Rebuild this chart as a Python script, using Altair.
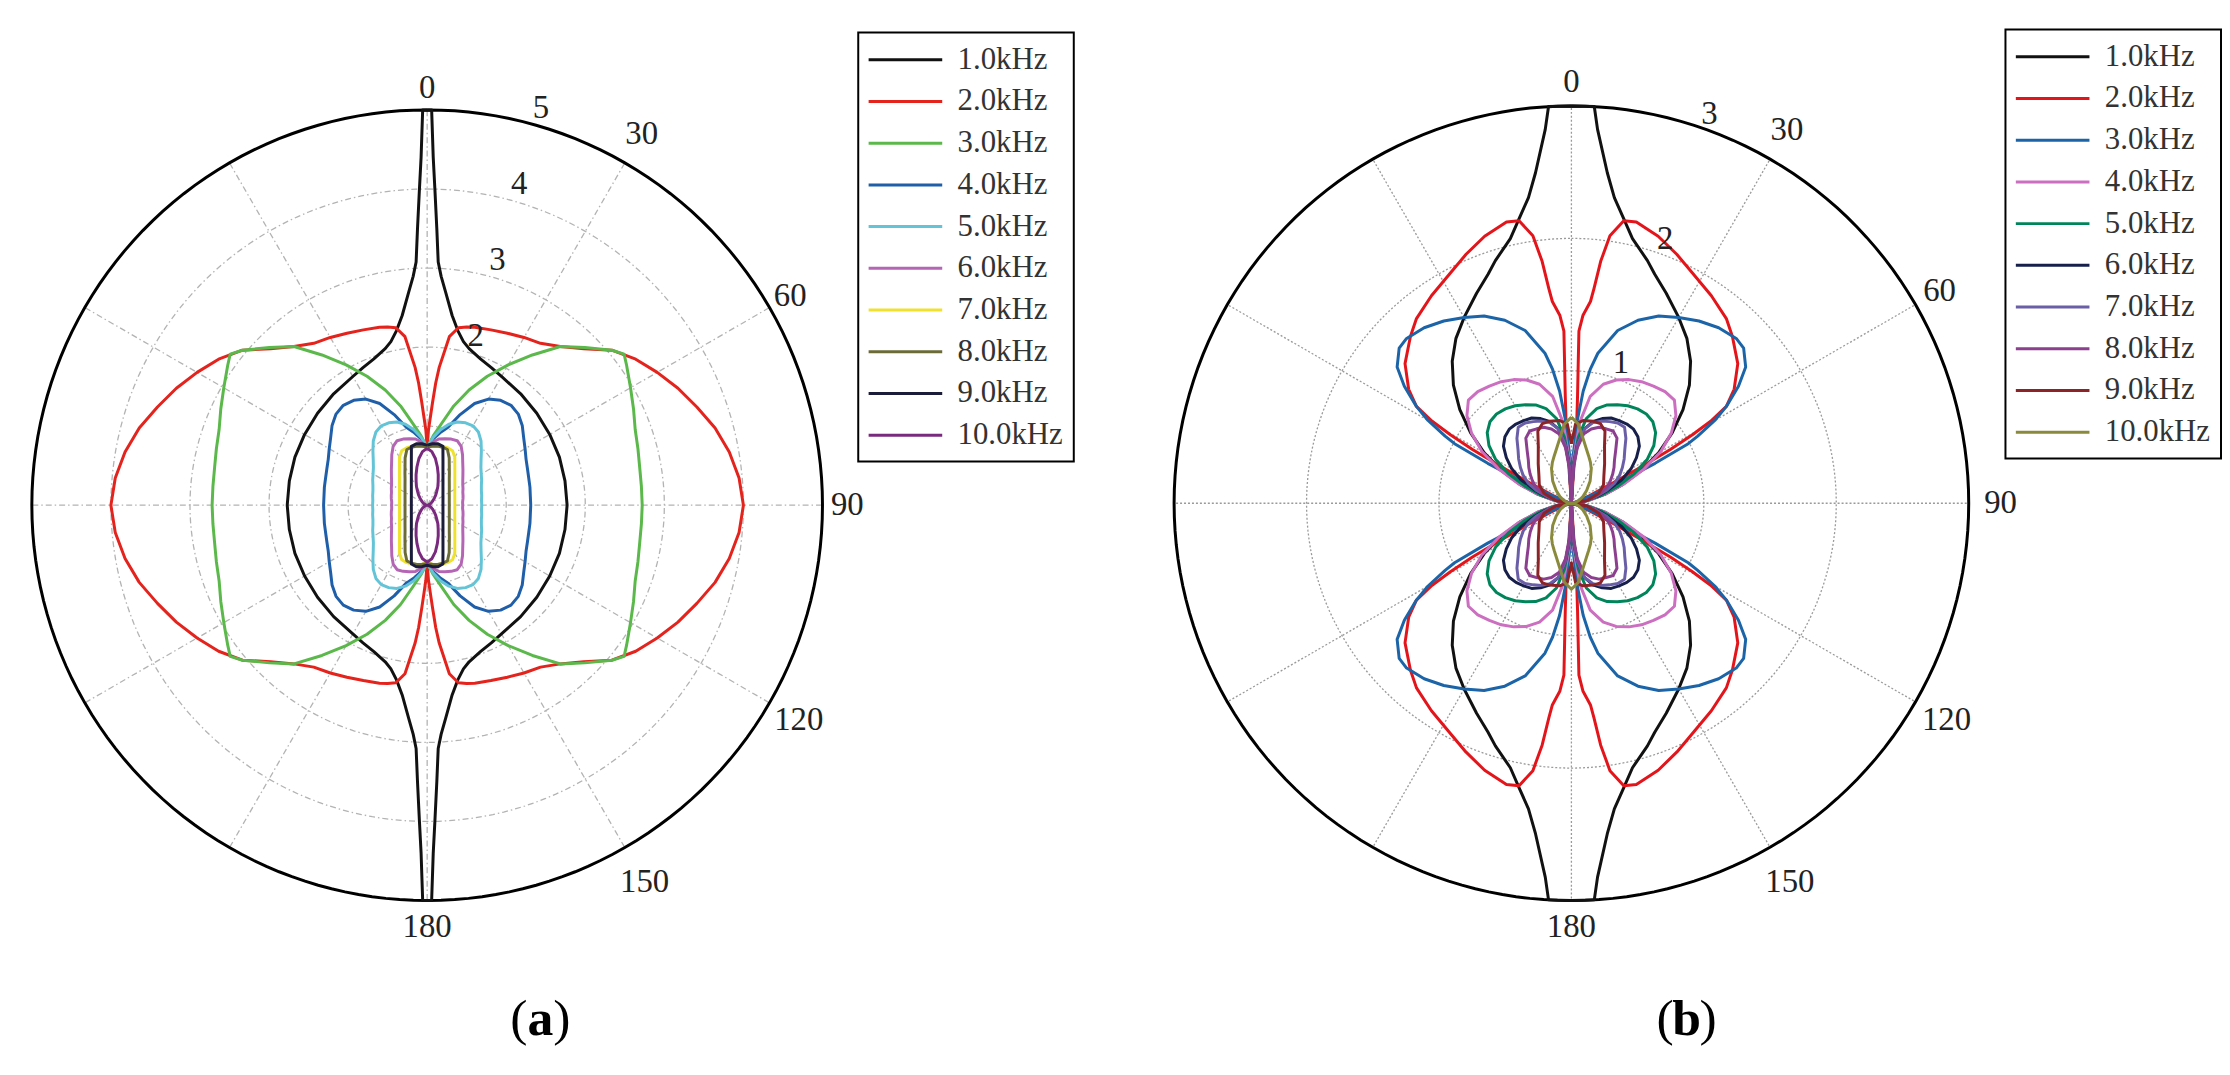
import altair as alt
import pandas as pd
import numpy as np

SERIES = ["1.0kHz", "2.0kHz", "3.0kHz", "4.0kHz", "5.0kHz",
          "6.0kHz", "7.0kHz", "8.0kHz", "9.0kHz", "10.0kHz"]
COLORS_A = ["#111111", "#e4231d", "#5bb84a", "#1f5ea8", "#62c4d6",
            "#b466b4", "#efe22e", "#6b6b38", "#1b1b3a", "#7a2a7e"]
COLORS_B = ["#111111", "#e3151b", "#1b64a8", "#cc6fc0", "#00845a",
            "#16204a", "#6a5fa6", "#8d3f8f", "#8c2327", "#8a8a3c"]

# ---- panel (a): one quadrant (0..90 deg) of each pattern
A1_T = [0, 0.65, 1.0, 1.4, 2.0, 2.6, 3.5, 5, 7.5, 10, 12.5, 15, 20, 25, 30, 40, 50, 60, 70, 80, 90]
A1_R = [5.0, 5.0, 4.4, 4.0, 3.5, 3.08, 2.9, 2.7, 2.42, 2.24, 2.12, 2.05, 1.97, 1.92, 1.88, 1.84, 1.81, 1.79, 1.78, 1.77, 1.77]
A2_T = [0, 1, 2, 3, 4, 5, 7.5, 10, 12.5, 15, 20, 25, 30, 35, 40, 45, 50, 55, 60, 65, 70, 75, 80, 85, 90]
A2_R = [0.73, 0.95, 1.1, 1.3, 1.55, 1.75, 2.15, 2.28, 2.31, 2.33, 2.36, 2.4, 2.45, 2.5, 2.62, 2.8, 3.05, 3.22, 3.36, 3.5, 3.63, 3.77, 3.88, 3.96, 4.0]
A3_T = [0, 5, 10, 15, 20, 25, 30, 35, 40, 45, 50, 52.5, 55, 60, 65, 70, 75, 80, 85, 90]
A3_R = [0.73, 0.88, 1.05, 1.3, 1.55, 1.8, 2.05, 2.32, 2.62, 2.82, 3.05, 3.14, 3.08, 2.97, 2.88, 2.8, 2.76, 2.73, 2.72, 2.72]
ANG_A = [0, 5, 10, 15, 20, 25, 30, 35, 40, 45, 50, 55, 60, 65, 70, 75, 80, 85, 90]
A4_R = [0.73, 0.84, 0.93, 1.02, 1.22, 1.42, 1.55, 1.62, 1.65, 1.63, 1.57, 1.49, 1.43, 1.38, 1.35, 1.33, 1.32, 1.31, 1.31]
A5_R = [0.73, 0.86, 0.97, 1.06, 1.12, 1.15, 1.16, 1.13, 1.06, 0.97, 0.89, 0.83, 0.79, 0.76, 0.73, 0.71, 0.70, 0.69, 0.69]
A6_R = [0.73, 0.80, 0.85, 0.87, 0.89, 0.90, 0.86, 0.78, 0.70, 0.64, 0.59, 0.55, 0.52, 0.50, 0.48, 0.47, 0.46, 0.45, 0.45]
A7_R = [0.73, 0.75, 0.76, 0.77, 0.77, 0.76, 0.70, 0.61, 0.545, 0.495, 0.457, 0.427, 0.404, 0.386, 0.372, 0.362, 0.355, 0.351, 0.35]
A8_R = [0.74, 0.75, 0.76, 0.76, 0.75, 0.66, 0.56, 0.49, 0.435, 0.396, 0.366, 0.342, 0.323, 0.309, 0.298, 0.29, 0.284, 0.281, 0.28]
A9_R = [0.76, 0.78, 0.79, 0.77, 0.585, 0.473, 0.40, 0.349, 0.311, 0.283, 0.261, 0.244, 0.231, 0.221, 0.213, 0.207, 0.203, 0.201, 0.20]
A10_R = [0.72, 0.68, 0.60, 0.50, 0.41, 0.33, 0.27, 0.21, 0.17, 0.13, 0.10, 0.08, 0.06, 0.045, 0.03, 0.02, 0.01, 0.005, 0.0]

# ---- panel (b)
B1_T = [0, 3.3, 4, 6.2, 8, 10.5, 13, 17.4, 20, 24.3, 30, 35, 40, 45, 50, 55, 60, 65, 70, 75, 80, 85, 90]
B1_R = [3.0, 3.0, 2.83, 2.51, 2.33, 2.18, 2.05, 1.92, 1.84, 1.74, 1.62, 1.52, 1.40, 1.26, 1.10, 0.93, 0.76, 0.58, 0.41, 0.26, 0.13, 0.05, 0.0]
B2_T = [0, 4, 3.3, 2.8, 2.5, 3.5, 5.4, 6, 6.9, 8.2, 10.5, 13, 18, 23, 28, 34, 40, 44, 50, 55, 58, 59.5, 60.5, 61.5, 62.5, 64, 67, 75, 90]
B2_R = [0, 0.55, 0.8, 1.05, 1.3, 1.42, 1.53, 1.63, 1.84, 2.04, 2.17, 2.18, 2.12, 2.04, 1.96, 1.89, 1.82, 1.75, 1.64, 1.5, 1.38, 1.22, 1.05, 0.85, 0.6, 0.35, 0.15, 0.04, 0]
B3_T = [0, 2, 4, 6, 8, 10, 15, 20, 25, 30, 35, 40, 45, 48, 52, 55, 58, 60, 62, 63, 64.5, 66, 69, 75, 90]
B3_R = [0, 0.35, 0.62, 0.85, 1.02, 1.15, 1.35, 1.47, 1.56, 1.62, 1.68, 1.73, 1.76, 1.75, 1.67, 1.54, 1.38, 1.25, 1.08, 0.99, 0.70, 0.42, 0.14, 0.04, 0]
ANG_B = [0, 3, 6, 10, 15, 20, 25, 30, 35, 40, 45, 50, 55, 60, 65, 70, 75, 80, 85, 90]
B4_R = [0, 0.35, 0.62, 0.82, 0.93, 0.99, 1.03, 1.06, 1.08, 1.10, 1.10, 1.03, 0.92, 0.78, 0.60, 0.42, 0.27, 0.14, 0.05, 0]
B5_R = [0, 0.30, 0.50, 0.65, 0.74, 0.79, 0.82, 0.85, 0.87, 0.88, 0.87, 0.83, 0.76, 0.66, 0.52, 0.37, 0.24, 0.12, 0.05, 0]
B6_R = [0, 0.28, 0.45, 0.57, 0.64, 0.68, 0.71, 0.72, 0.73, 0.73, 0.71, 0.67, 0.60, 0.52, 0.42, 0.30, 0.20, 0.10, 0.04, 0]
B7_R = [0, 0.28, 0.45, 0.57, 0.63, 0.66, 0.68, 0.70, 0.70, 0.64, 0.57, 0.52, 0.47, 0.42, 0.36, 0.28, 0.19, 0.11, 0.04, 0]
B8_R = [0, 0.25, 0.42, 0.53, 0.58, 0.61, 0.62, 0.63, 0.60, 0.52, 0.46, 0.42, 0.38, 0.34, 0.30, 0.24, 0.17, 0.10, 0.04, 0]
B9_T = [0, 3, 8, 15, 20, 25, 30, 40, 50, 60, 70, 80, 90]
B9_R = [0.45, 0.60, 0.63, 0.64, 0.64, 0.60, 0.50, 0.39, 0.32, 0.28, 0.22, 0.12, 0]
B10_T = [0, 5, 10, 15, 20, 25, 30, 40, 50, 60, 70, 80, 90]
B10_R = [0.65, 0.60, 0.50, 0.43, 0.38, 0.34, 0.30, 0.22, 0.15, 0.10, 0.06, 0.03, 0]

ANGLE_TICKS = [0, 30, 60, 90, 120, 150, 180]
RINGS_A, RMAX_A, RTICKS_A = [1, 2, 3, 4], 5, [2, 3, 4, 5]
RINGS_B, RMAX_B, RTICKS_B = [1, 2], 3, [1, 2, 3]

# ---- styling constants (pixels)
LABEL_GAP_A = {0: 22, 30: 34, 60: 24, 90: 25, 120: 34, 150: 40, 180: 27}
LABEL_GAP_B = {0: 24, 30: 34, 60: 28, 90: 32, 120: 36, 150: 40, 180: 27}
FONT = "Liberation Serif"
LEGEND_SYMBOL = "M-2.47,0L2.47,0"   # a 74px horizontal stroke at symbolSize 900


def closed_path(name, thetas, radii):
    """mirror the measured quadrant into the full symmetric pattern"""
    q = list(zip(thetas, radii))
    seq = (q + [(180 - t, r) for t, r in reversed(q)]
           + [(180 + t, r) for t, r in q] + [(360 - t, r) for t, r in reversed(q)])
    return [{"series": name, "theta": t, "r": r, "k": k} for k, (t, r) in enumerate(seq)]


def curves(pairs):
    rows = []
    for name, (t, r) in zip(SERIES, pairs):
        rows += closed_path(name, t, r)
    return pd.DataFrame(rows)


CURVES_A = curves([(A1_T, A1_R), (A2_T, A2_R), (A3_T, A3_R), (ANG_A, A4_R), (ANG_A, A5_R),
                   (ANG_A, A6_R), (ANG_A, A7_R), (ANG_A, A8_R), (ANG_A, A9_R), (ANG_A, A10_R)])
CURVES_B = curves([(B1_T, B1_R), (B2_T, B2_R), (B3_T, B3_R), (ANG_B, B4_R), (ANG_B, B5_R),
                   (ANG_B, B6_R), (ANG_B, B7_R), (ANG_B, B8_R), (B9_T, B9_R), (B10_T, B10_R)])

XY = dict(x="datum.r * sin(datum.theta * PI / 180)", y="datum.r * cos(datum.theta * PI / 180)")


def panel(cdf, colors, rings, rmax, rticks, rtick_angle, rtick_gap, label_gap, ppu, cx, cy, W, H,
          grid_dash, grid_color, letter, cap_x, cap_y, leg_x, leg_y):
    xs = alt.Scale(domain=[-cx / ppu, (W - cx) / ppu], nice=False, zero=False)
    ys = alt.Scale(domain=[-(H - cy) / ppu, cy / ppu], nice=False, zero=False)
    X = alt.X("x:Q", scale=xs, axis=None)
    Y = alt.Y("y:Q", scale=ys, axis=None)

    circ = np.arange(0, 361, 2)
    ring_df = pd.DataFrame([{"ring": g, "r": g, "theta": float(t), "k": i}
                            for g in rings for i, t in enumerate(circ)])
    outer_df = pd.DataFrame([{"r": rmax, "theta": float(t), "k": i} for i, t in enumerate(circ)])
    spoke_df = pd.DataFrame({"theta": list(range(0, 360, 30)), "r": rmax})

    ring_layer = alt.Chart(ring_df).transform_calculate(**XY).mark_line(
        color=grid_color, strokeWidth=1.3, strokeDash=grid_dash).encode(
        x=X, y=Y, detail="ring:N", order="k:Q")
    spoke_layer = alt.Chart(spoke_df).transform_calculate(
        x0="0", y0="0", **XY).mark_rule(
        color=grid_color, strokeWidth=1.3, strokeDash=grid_dash).encode(
        x=alt.X("x0:Q", scale=xs, axis=None), y=alt.Y("y0:Q", scale=ys, axis=None),
        x2="x:Q", y2="y:Q")
    outer_layer = alt.Chart(outer_df).transform_calculate(**XY).mark_line(
        color="#000", strokeWidth=3).encode(x=X, y=Y, order="k:Q")

    curve_layer = alt.Chart(cdf).transform_calculate(**XY).mark_line(
        strokeWidth=3, strokeJoin="round").encode(
        x=X, y=Y, order="k:Q",
        color=alt.Color("series:N", scale=alt.Scale(domain=SERIES, range=colors),
                        legend=alt.Legend(orient="none", legendX=leg_x, legendY=leg_y,
                                          title=None, symbolType=LEGEND_SYMBOL, symbolSize=900,
                                          symbolStrokeWidth=3, symbolOffset=20,
                                          labelFont=FONT, labelFontSize=31, labelColor="#333",
                                          strokeColor="#000", fillColor="#fff",
                                          padding=11, rowPadding=10, labelOffset=36,
                                          labelLimit=400)))

    ang_df = pd.DataFrame({"label": [str(a) for a in ANGLE_TICKS], "theta": ANGLE_TICKS,
                           "r": [rmax + label_gap[a] / ppu for a in ANGLE_TICKS]})
    ang_layer = alt.Chart(ang_df).transform_calculate(**XY).mark_text(
        font=FONT, fontSize=33, color="#222", align="center", baseline="middle").encode(
        x=X, y=Y, text="label:N")

    rad_df = pd.DataFrame({"label": [str(v) for v in rticks], "theta": rtick_angle,
                           "r": [v + rtick_gap / ppu for v in rticks]})
    rad_layer = alt.Chart(rad_df).transform_calculate(**XY).mark_text(
        font=FONT, fontSize=33, color="#222", align="center", baseline="middle").encode(
        x=X, y=Y, text="label:N")

    cap_df = pd.DataFrame({"x": [(cap_x - cx) / ppu], "y": [(cy - cap_y) / ppu],
                           "l": ["("], "m": [letter], "rr": [")"]})
    cap_base = alt.Chart(cap_df)
    cap_l = cap_base.mark_text(font=FONT, fontSize=52, color="#000", align="right",
                               baseline="alphabetic", dx=-13).encode(x=X, y=Y, text="l:N")
    cap_m = cap_base.mark_text(font=FONT, fontSize=52, color="#000", align="center",
                               baseline="alphabetic", fontWeight="bold").encode(x=X, y=Y, text="m:N")
    cap_r = cap_base.mark_text(font=FONT, fontSize=52, color="#000", align="left",
                               baseline="alphabetic", dx=13).encode(x=X, y=Y, text="rr:N")

    return alt.layer(ring_layer, spoke_layer, outer_layer, curve_layer, ang_layer,
                     rad_layer, cap_l, cap_m, cap_r).properties(width=W, height=H)


H = 1059
WA, WB = 1080, 1134
pa = panel(CURVES_A, COLORS_A, RINGS_A, RMAX_A, RTICKS_A, 16, 18, LABEL_GAP_A, 398 / 5,
           422, 497, WA, H, [6, 3, 1.5, 3], "#b3b3b3", "a", 536, 1030, 856, 21)
pb = panel(CURVES_B, COLORS_B, RINGS_B, RMAX_B, RTICKS_B, 19.5, 16, LABEL_GAP_B, 400 / 3,
           494, 495, WB, H, [2, 2], "#9a9a9a", "b", 610, 1030, 931, 18)

chart = alt.hconcat(pa, pb, spacing=0).resolve_scale(
    color="independent", x="independent", y="independent").properties(
    padding=0).configure_view(stroke=None).configure_legend(strokeWidth=2)

chart.save("out.html", embed_options={"renderer": "svg", "actions": False})
